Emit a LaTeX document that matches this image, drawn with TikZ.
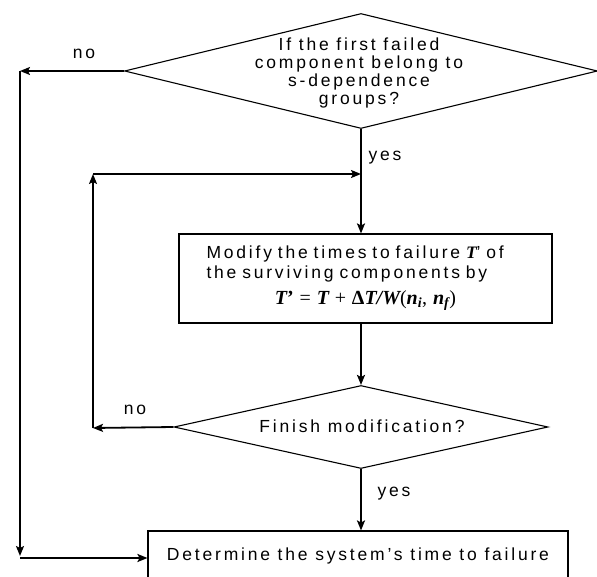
\documentclass[tikz,border=0pt]{standalone}
\usepackage{fontspec}
\setmainfont{Liberation Sans}[LetterSpace=16]
\newfontfamily\mathserif{Liberation Serif}
\usetikzlibrary{arrows.meta,shapes.geometric}
\newcommand\bivar[1]{{\mathserif\bfseries\itshape #1}}
\begin{document}
\begin{tikzpicture}[line join=miter,>={Stealth[length=10pt,width=8pt,inset=2pt]},
x=1pt,y=-1pt,
decision/.style={draw,line width=1.1pt,shape=diamond,inner sep=0pt},
process/.style={draw,line width=1.1pt,rectangle,inner sep=0pt},
txt/.style={font=\fontsize{17.5}{18}\selectfont,align=center,inner sep=0pt},
flow/.style={line width=1.8pt,->}]
\useasboundingbox (0,0) rectangle (597,577);
\clip (0,0) rectangle (597,577);
% Hai khoi quyet dinh va hai khoi xu ly
\node[decision,minimum width=473pt,minimum height=115pt] (q1) at (361,71) {};
\node[txt] (q1text) at (359,73) {If the first failed\\component belong to\\s-dependence\\groups?};
\node[process,txt,font=\fontsize{17.5}{20}\selectfont,minimum width=373pt,minimum height=89pt,text width=318pt,align=left] (mod) at (365.5,278.5)
{Modify the times to failure \bivar{T}’ of\\the surviving components by\\[6pt]
\hspace*{\fill}{\mathserif\fontsize{20}{21}\selectfont\bivar{T}{\bfseries’} = \bivar{T} + {\bfseries Δ}\bivar{T/W}(\bivar{n}\textsubscript{\bivar{i}}, \bivar{n}\textsubscript{\bivar{f}})}\hspace*{\fill}\null};
\node[decision,minimum width=374pt,minimum height=83pt] (q2) at (361,427) {};
\node[txt] (q2text) at (362,426) {Finish modification?};
\node[process,txt,minimum width=420pt,minimum height=50pt] (det) at (358,556) {Determine the system’s time to failure};
% Cac diem gap khuc
\coordinate (c1) at (20,71);
\coordinate (c2) at (20,556);
\coordinate (c3) at (20,558);
\coordinate (l1) at (93,428);
\coordinate (l2) at (93,174);
% Nhanh "no" ben ngoai
\draw[flow] (q1.west) -- (c1);
\draw[flow] (c1) -- (c2);
\draw[flow] (c3) -- (c3 -| det.west);
\node[txt] (no1) at (84,54) {no};
% Nhanh "yes" va vong lap
\draw[flow] (q1.south) -- (q1.south |- mod.north);
\node[txt] (yes1) at (385,158) {yes};
\draw[flow] (l2) -- (l2 -| q1.south);
\draw[flow] (mod.south -| q1.south) -- (q2.north);
\draw[flow] (q2.west) -- (l1);
\draw[flow] (l1) -- (l2);
\node[txt] (no2) at (135,410) {no};
\draw[flow] (q2.south) -- (q2.south |- det.north);
\node[txt] (yes2) at (394,494) {yes};
\end{tikzpicture}
\end{document}
